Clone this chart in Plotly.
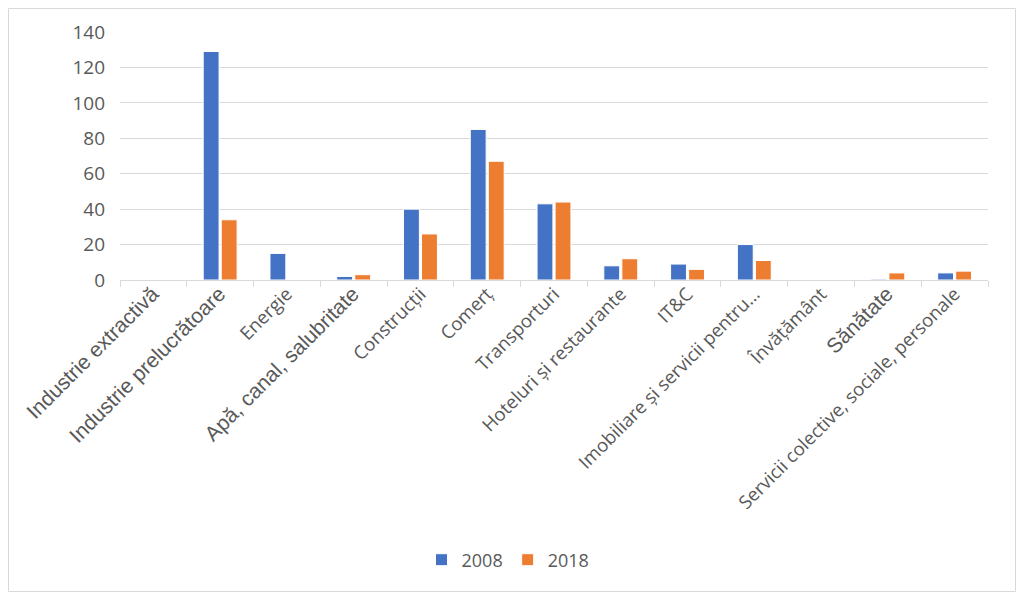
import plotly.graph_objects as go

categories = [
    "Industrie extractivă", "Industrie prelucrătoare", "Energie",
    "Apă, canal, salubritate", "Construcții", "Comerț", "Transporturi",
    "Hoteluri și restaurante", "IT&C", "Imobiliare și servicii pentru…",
    "Învățământ", "Sănătate", "Servicii colective, sociale, personale",
]
values_2008 = [0, 129, 15, 2, 40, 85, 43, 8, 9, 20, 0, 0.5, 4]
values_2018 = [0, 34, 0, 3, 26, 67, 44, 12, 6, 11, 0, 4, 5]
series_names = ["2008", "2018"]
y_ticks = [0, 20, 40, 60, 80, 100, 120, 140]

arial_cats = {"Industrie extractivă", "Industrie prelucrătoare",
              "Apă, canal, salubritate", "Sănătate"}
tick_text = [
    (f'<span style="font-family:Liberation Sans;font-size:21px">{c}</span>'
     if c in arial_cats else c.replace("&", "&amp;"))
    for c in categories
]

# page is drawn with an 8px body offset; work in screen coordinates
OFF = 8
W, H = 1024 - OFF, 598 - OFF
L, R, T, B = 120 - OFF, 1024 - 988, 32 - OFF, 598 - 280
pw, ph = W - L - R, H - T - B

fig = go.Figure()
fig.add_trace(go.Bar(x=categories, y=values_2008, name=series_names[0],
                     marker=dict(color="#4472C4", line=dict(color="white", width=1))))
fig.add_trace(go.Bar(x=categories, y=values_2018, name=series_names[1],
                     marker=dict(color="#ED7D31", line=dict(color="white", width=1))))

def px(x):
    return (x - OFF - L) / pw

def py(y):
    return (280 - y) / ph

fig.add_shape(type="rect", xref="paper", yref="paper",
              x0=px(8.5), x1=px(1015.5), y0=py(591.5), y1=py(8.5),
              line=dict(color="#d9d9d9", width=1), layer="below")

fig.update_layout(
    width=W, height=H,
    margin=dict(l=L, r=R, t=T, b=B, autoexpand=False),
    paper_bgcolor="white", plot_bgcolor="white",
    font=dict(family="Open Sans", size=15, color="#595959"),
    barmode="group", bargap=0.46, bargroupgap=0.12,
    showlegend=True,
    legend=dict(orientation="h", x=px(508), y=py(560), xanchor="center",
                yanchor="middle", font=dict(size=18, color="#595959"),
                itemwidth=30, traceorder="normal"),
    xaxis=dict(
        tickmode="array", tickvals=categories, ticktext=tick_text,
        tickangle=-45, tickson="boundaries", ticks="outside", ticklen=6,
        tickcolor="#d9d9d9", showline=True, linecolor="#d9d9d9",
        showgrid=False, tickfont=dict(size=18.5, color="#595959"),
        ticklabelstandoff=-5,
    ),
    yaxis=dict(
        range=[0, 140], tickvals=y_ticks, showgrid=True, gridcolor="#d9d9d9",
        zeroline=False, showline=False, ticks="", ticklabelstandoff=14,
        tickfont=dict(size=19, color="#595959"),
    ),
)

fig.write_html("out.html")
